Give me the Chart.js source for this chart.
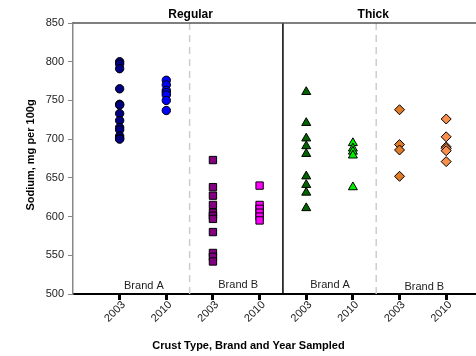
<!DOCTYPE html>
<html>
<head>
<meta charset="utf-8">
<script src="https://cdn.jsdelivr.net/npm/chart.js@4/dist/chart.umd.min.js"></script>
<style>
  html, body { margin: 0; padding: 0; background: #fff; }
  canvas { display: block; }
</style>
</head>
<body>
<canvas id="c" width="476" height="356"></canvas>
<script>
// ---- Data ----
const yearLabels = ["2003", "2010", "2003", "2010", "2003", "2010", "2003", "2010"];
const groupPositions = [1, 2, 3, 4, 5, 6, 7, 8];
const crustTypes = ["Regular", "Thick"];
const brandLabels = ["Brand A", "Brand B", "Brand A", "Brand B"];

const regularA2003 = [800, 797, 791, 765, 745, 744, 733, 724, 715, 712, 704, 701, 700];
const regularA2010 = [776, 770, 763, 760, 757, 750, 737];
const regularB2003 = [673, 638, 627, 615, 605, 601, 597, 580, 553, 548, 542];
const regularB2010 = [640, 615, 610, 605, 600, 595];
const thickA2003 = [761, 721, 701, 691, 681, 652, 641, 631, 611];
const thickA2010 = [695, 688, 684, 679, 638];
const thickB2003 = [738, 693, 686, 652];
const thickB2010 = [726, 703, 690, 688, 685, 671];

const yTickValues = [500, 550, 600, 650, 700, 750, 800, 850];

const FONT = "'Liberation Sans', Arial, Helvetica, sans-serif";

function pts(pos, arr) { return arr.map(v => ({ x: pos, y: v })); }

const series = [
  { data: regularA2003, pos: 1, style: 'circle',   bg: '#000080', r: 4.2 },
  { data: regularA2010, pos: 2, style: 'circle',   bg: '#0000FF', r: 4.2 },
  { data: regularB2003, pos: 3, style: 'rect',     bg: '#800080', r: 5.2 },
  { data: regularB2010, pos: 4, style: 'rect',     bg: '#FF00FF', r: 5.2 },
  { data: thickA2003,   pos: 5, style: 'triangle', bg: '#006400', r: 5.2 },
  { data: thickA2010,   pos: 6, style: 'triangle', bg: '#00EE00', r: 5.2 },
  { data: thickB2003,   pos: 7, style: 'rectRot',  bg: '#E07B27', r: 5 },
  { data: thickB2010,   pos: 8, style: 'rectRot',  bg: '#F98F4D', r: 5 }
];

const datasets = series.map(s => ({
  data: pts(s.pos, s.data),
  pointStyle: s.style,
  pointRadius: s.r,
  pointBackgroundColor: s.bg,
  pointBorderColor: '#000000',
  pointBorderWidth: 1,
  showLine: false
}));

const decorPlugin = {
  id: 'decor',
  beforeDatasetsDraw(chart) {
    const { ctx, chartArea: a, scales: { x } } = chart;
    ctx.save();
    ctx.strokeStyle = '#CDCDCD';
    ctx.lineWidth = 1.5;
    ctx.setLineDash([7, 5]);
    [2.5, 6.5].forEach(v => {
      const px = x.getPixelForValue(v);
      ctx.beginPath(); ctx.moveTo(px, a.top); ctx.lineTo(px, a.bottom); ctx.stroke();
    });
    ctx.setLineDash([]);
    ctx.strokeStyle = '#000000';
    ctx.lineWidth = 1.5;
    const sx = x.getPixelForValue(4.5);
    ctx.beginPath(); ctx.moveTo(sx, a.top); ctx.lineTo(sx, a.bottom); ctx.stroke();
    ctx.strokeStyle = '#555555';
    ctx.lineWidth = 1.5;
    ctx.beginPath(); ctx.moveTo(a.left, a.top); ctx.lineTo(a.right, a.top); ctx.stroke();
    ctx.restore();
  },
  afterDraw(chart) {
    const { ctx, chartArea: a, scales: { x } } = chart;
    ctx.save();
    ctx.fillStyle = '#000';
    ctx.font = 'bold 12px ' + FONT;
    ctx.textAlign = 'center';
    ctx.textBaseline = 'middle';
    ctx.fillText(crustTypes[0], x.getPixelForValue(2.5) + 1, a.top - 8);
    ctx.fillText(crustTypes[1], x.getPixelForValue(6.5) - 3, a.top - 8);
    ctx.font = '11px ' + FONT;
    ctx.fillStyle = '#222';
    const bpos = [1.52, 3.54, 5.51, 7.53];
    const boff = [-8, -9, -9, -7];
    brandLabels.forEach((t, i) => {
      ctx.fillText(t, x.getPixelForValue(bpos[i]), a.bottom + boff[i]);
    });
    ctx.textAlign = 'right';
    ctx.textBaseline = 'middle';
    groupPositions.forEach((p, i) => {
      ctx.save();
      ctx.translate(x.getPixelForValue(p) + 4, a.bottom + 9);
      ctx.rotate(-Math.PI / 4);
      ctx.fillText(yearLabels[i], 0, 0);
      ctx.restore();
    });
    ctx.textAlign = 'center';
    ctx.fillStyle = '#000';
    ctx.font = 'bold 11px ' + FONT;
    ctx.fillText('Crust Type, Brand and Year Sampled', 248.5, 346);
    ctx.translate(31, 155);
    ctx.rotate(-Math.PI / 2);
    ctx.fillText('Sodium, mg per 100g', 0, 0);
    ctx.restore();
  }
};

new Chart(document.getElementById('c'), {
  type: 'scatter',
  data: { datasets },
  options: {
    responsive: false,
    devicePixelRatio: 1,
    animation: false,
    events: [],
    layout: { autoPadding: false, padding: { top: 23, right: 0, left: 0, bottom: 0 } },
    plugins: { legend: { display: false }, tooltip: { enabled: false }, title: { display: false } },
    scales: {
      x: {
        type: 'linear',
        min: 0,
        max: 8.639,
        afterBuildTicks(scale) { scale.ticks = groupPositions.map(v => ({ value: v })); },
        afterFit(scale) { scale.height = 62; },
        ticks: { display: false },
        grid: { drawOnChartArea: false, drawTicks: true, tickLength: 6, tickWidth: 3, tickColor: '#000' },
        border: { display: true, color: '#000', width: 2 }
      },
      y: {
        min: 500,
        max: 850,
        afterBuildTicks(scale) { scale.ticks = yTickValues.map(v => ({ value: v })); },
        afterFit(scale) { scale.width = 73; },
        ticks: {
          padding: 4,
          color: '#222',
          font: { family: FONT, size: 11 }
        },
        grid: { drawOnChartArea: false, drawTicks: true, tickLength: 5, tickWidth: 1, tickColor: '#888' },
        border: { display: true, color: '#888', width: 1.5 }
      }
    }
  },
  plugins: [decorPlugin]
});
</script>
</body>
</html>
